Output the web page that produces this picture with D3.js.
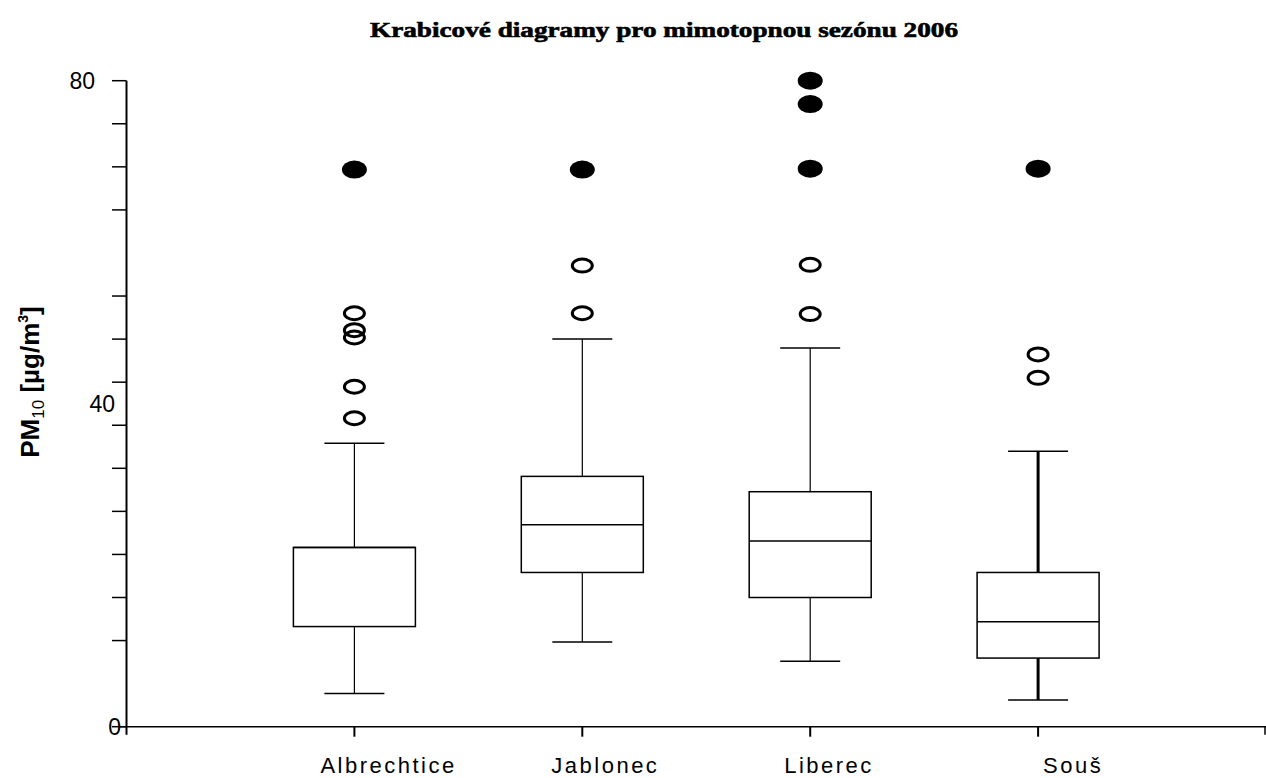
<!DOCTYPE html>
<html><head><meta charset="utf-8">
<script src="https://cdn.jsdelivr.net/npm/d3@7"></script>
<style>body{margin:0;background:#fff}svg{display:block}</style>
</head><body>
<svg id="c" width="1266" height="778"></svg>
<script>
const title = "Krabicové diagramy pro mimotopnou sezónu 2006";
const categories = ["Albrechtice", "Jablonec", "Liberec", "Souš"];
const whiskerLow = [4.1, 10.5, 8.1, 3.3];
const q1 = [12.4, 19.1, 16.0, 8.5];
const median = [22.2, 25.0, 23.0, 13.0];
const q3 = [22.2, 31.0, 29.1, 19.1];
const whiskerHigh = [35.1, 48.0, 46.9, 34.1];
const outliers = [[51.2, 49.1, 48.2, 42.1, 38.2], [57.1, 51.2], [57.2, 51.1], [46.1, 43.2]];
const extremes = [[69.0], [69.0], [80.0, 77.1, 69.1], [69.1]];
const yTickLabels = [0, 40, 80];
const yMinorTicks = [0,2,3,4,5,6,7,8,9,10,12,13,14,15].map(k => k * 80 / 15);

const svg = d3.select("#c");
const y = d3.scaleLinear().domain([0, 80]).range([726.7, 80.7]);
const x = d3.scalePoint().domain(categories).range([126.5, 1266]).padding(1);
const boxW = 122, capW = 60;

// title
svg.append("text").attr("x", 664).attr("y", 37).attr("text-anchor", "middle")
  .attr("font-family", "Liberation Serif").attr("font-weight", "bold").attr("font-size", 21)
  .attr("stroke", "#000").attr("stroke-width", 0.6)
  .attr("textLength", 588).attr("lengthAdjust", "spacingAndGlyphs").text(title);

// y axis
svg.append("line").attr("x1", 126.5).attr("x2", 126.5).attr("y1", y(80)).attr("y2", y(0) + 8)
  .attr("stroke", "#000").attr("stroke-width", 2);
svg.selectAll(".yt").data(yMinorTicks).join("line")
  .attr("x1", 112).attr("x2", 126.5).attr("y1", d => y(d)).attr("y2", d => y(d))
  .attr("stroke", "#000").attr("stroke-width", 1.5);
const yLabX = {0: 121, 40: 115, 80: 95};
svg.selectAll(".yl").data(yTickLabels).join("text")
  .attr("x", d => yLabX[d]).attr("y", d => y(d) + 8).attr("text-anchor", "end")
  .attr("font-family", "Liberation Sans").attr("font-size", 23).text(d => d);

// x axis
svg.append("line").attr("x1", 120).attr("x2", 1266).attr("y1", y(0)).attr("y2", y(0))
  .attr("stroke", "#000").attr("stroke-width", 1.5);
svg.selectAll(".xt").data(categories).join("line")
  .attr("x1", d => x(d)).attr("x2", d => x(d)).attr("y1", y(0)).attr("y2", y(0) + 10)
  .attr("stroke", "#000").attr("stroke-width", 2);
svg.append("line").attr("x1", 1265).attr("x2", 1265).attr("y1", y(0)).attr("y2", y(0) + 8)
  .attr("stroke", "#000").attr("stroke-width", 1.5);
const labelShift = [-34, -31, -26, 5];
svg.selectAll(".xl").data(categories).join("text")
  .attr("x", (d, i) => x(d) + labelShift[i]).attr("y", 773).attr("text-anchor", "start")
  .attr("font-family", "Liberation Sans").attr("font-size", 22).attr("letter-spacing", 2.5)
  .text(d => d);

// y label
svg.append("text").attr("transform", "translate(39,382) rotate(-90)").attr("text-anchor", "middle")
  .attr("font-family", "Liberation Sans").attr("font-weight", "bold").attr("font-size", 26)
  .call(t => {
    t.append("tspan").text("PM");
    t.append("tspan").attr("font-size", 17).attr("font-weight", "normal").attr("dy", 5).text("10");
    t.append("tspan").attr("dy", -5).text(" [µg/m");
    t.append("tspan").attr("font-size", 14).attr("dy", -11).text("3");
    t.append("tspan").attr("dy", 11).text("]");
  });

// boxes
const g = svg.selectAll(".box").data(categories).join("g");
g.each(function(c, i) {
  const s = d3.select(this), cx = x(c);
  const ww = i === 3 ? 3 : 1.2;
  s.append("line").attr("x1", cx).attr("x2", cx).attr("y1", y(whiskerHigh[i])).attr("y2", y(q3[i]))
    .attr("stroke", "#000").attr("stroke-width", ww);
  s.append("line").attr("x1", cx).attr("x2", cx).attr("y1", y(q1[i])).attr("y2", y(whiskerLow[i]))
    .attr("stroke", "#000").attr("stroke-width", ww);
  [whiskerHigh[i], whiskerLow[i]].forEach(v =>
    s.append("line").attr("x1", cx - capW / 2).attr("x2", cx + capW / 2).attr("y1", y(v)).attr("y2", y(v))
      .attr("stroke", "#000").attr("stroke-width", 1.5));
  s.append("rect").attr("x", cx - boxW / 2).attr("width", boxW)
    .attr("y", y(q3[i])).attr("height", y(q1[i]) - y(q3[i]))
    .attr("fill", "#fff").attr("stroke", "#000").attr("stroke-width", 1.5);
  s.append("line").attr("x1", cx - boxW / 2).attr("x2", cx + boxW / 2).attr("y1", y(median[i])).attr("y2", y(median[i]))
    .attr("stroke", "#000").attr("stroke-width", 1.5);
  s.selectAll(".o").data(outliers[i]).join("ellipse")
    .attr("cx", cx).attr("cy", d => y(d)).attr("rx", 10).attr("ry", 6.5)
    .attr("fill", "none").attr("stroke", "#000").attr("stroke-width", 3);
  s.selectAll(".e").data(extremes[i]).join("ellipse")
    .attr("cx", cx).attr("cy", d => y(d)).attr("rx", 12.5).attr("ry", 9)
    .attr("fill", "#000");
});
</script>
</body></html>
